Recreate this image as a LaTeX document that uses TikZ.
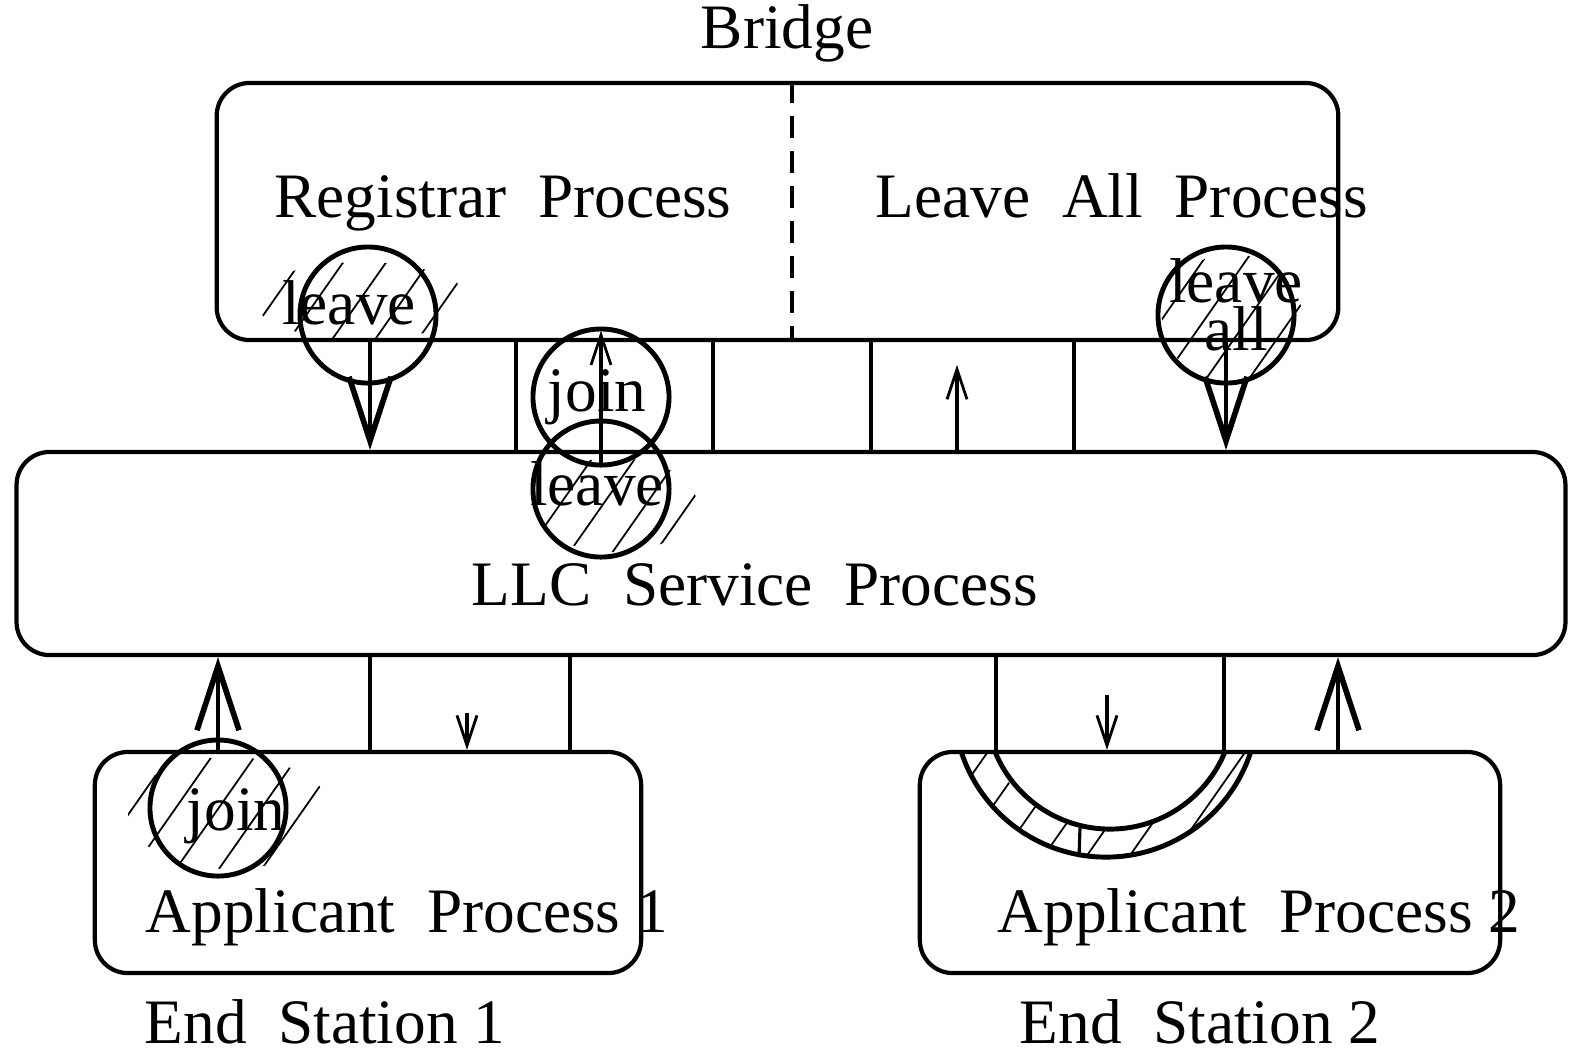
\documentclass[tikz,border=0pt]{standalone}
\usepackage{fontspec}
\setmainfont{Liberation Serif}
\usetikzlibrary{arrows.meta, patterns.meta}

\tikzset{
  box/.style={draw, rounded corners=.33cm, line width=1.2pt, inner sep=0pt},
  caption/.style={anchor=base, inner sep=0pt},
  token/.style={draw, circle, line width=1.4pt, minimum size=1.36cm, inner sep=0pt},
  wire/.style={line width=.9pt},
  bigarrow/.style={wire, -{Straight Barb[length=.64cm, width=.42cm, line width=1.6pt]}},
  smallarrow/.style={wire, -{Straight Barb[length=.3cm, width=.2cm, line width=.8pt]}},
  hatch/.style={pattern={Lines[angle=55, distance=10pt, line width=.5pt]}}
}

\begin{document}
\begin{tikzpicture}[x=.01cm, y=-.01cm, font=\fontsize{18}{21}\selectfont]
\useasboundingbox (0,0) rectangle (1572,1059);

% the four processes
\node[box, minimum width=11.21cm, minimum height=2.57cm] (bridge) at (777.5,211.5) {};
\node[box, minimum width=15.48cm, minimum height=2.03cm] (llc) at (791,553.5) {};
\node[box, minimum width=5.46cm, minimum height=2.21cm] (app1) at (368,862.5) {};
\node[box, minimum width=5.80cm, minimum height=2.21cm] (app2) at (1210,862.5) {};
\draw[wire, dash pattern=on .22cm off .13cm] (bridge.north -| 792,0) -- (bridge.south -| 792,0);

\node[caption] (bridgetxt) at (787,48) {Bridge};
\node[caption] (regtxt) at (503,217) {Registrar\enspace Process};
\node[caption] (leavealltxt) at (1122,217) {Leave\enspace All\enspace Process};
\node[caption] (llctxt) at (755,605) {LLC\enspace Service\enspace Process};
\node[caption] (app1txt) at (407,932) {Applicant\enspace Process 1};
\node[caption] (app2txt) at (1259,932) {Applicant\enspace Process 2};
\node[caption] (end1txt) at (325,1043) {End\enspace Station 1};
\node[caption] (end2txt) at (1200,1043) {End\enspace Station 2};

% hatching under the messages
\fill[hatch] (362,301) ellipse (1.07cm and .39cm);
\fill[hatch] (615,505) ellipse (.82cm and .47cm);
\fill[hatch] (230,813) ellipse (1.02cm and .56cm);
\fill[hatch] (1232,318) ellipse (.7cm and .64cm);

% messages
\node[token, label={[xshift=-.19cm, yshift=.12cm]center:leave}] (leaveB) at (368,315) {};
\node[token, label={[xshift=-.04cm]center:join}] (joinB) at (601,397) {};
\node[token, label={[xshift=-.04cm, yshift=.05cm]center:leave}] (leaveL) at (601,489) {};
\node[token, label={[align=center, font=\fontsize{18}{9.5}\selectfont, xshift=.1cm, yshift=.1cm]center:leave\\all}] (leaveall) at (1226,315) {};
\node[token, label={[xshift=.18cm, yshift=-.08cm]center:join}] (joinA) at (218,808) {};

% bridge <-> llc
\foreach \x in {516,713,871,1074}
  \draw[wire] (bridge.south -| \x,0) -- (llc.north -| \x,0);
\foreach \x in {370,1226}
  \draw[bigarrow] (bridge.south -| \x,0) -- (llc.north -| \x,0);
\draw[smallarrow] (llc.north -| 957,0) -- ++(0,-85);
\draw[smallarrow, shorten <=.26cm] (leaveL.center) -- ([yshift=-.04cm]joinB.north);

% llc <-> end stations
\foreach \x in {370,570}
  \draw[wire] (llc.south -| \x,0) -- (app1.north -| \x,0);
\foreach \x in {996,1224}
  \draw[wire] (llc.south -| \x,0) -- (app2.north -| \x,0);
\draw[bigarrow] (app1.north -| 218,0) -- (llc.south -| 218,0);
\draw[bigarrow] (app2.north -| 1338,0) -- (llc.south -| 1338,0);
\draw[smallarrow] (467,713) -- (app1.north -| 467,0);
\draw[smallarrow] (1107,695) -- (app2.north -| 1107,0);

% ring in applicant 2
\begin{scope}
\clip (900,752) rectangle (1300,900);
\fill[hatch, even odd rule] (1106,705) circle (1.52cm) circle (1.24cm);
\draw[line width=1.4pt] (1106,705) circle (1.52cm) (1110,705) circle (1.24cm);
\end{scope}
\draw[wire] (1080,828) -- (1079,857);
\end{tikzpicture}
\end{document}
